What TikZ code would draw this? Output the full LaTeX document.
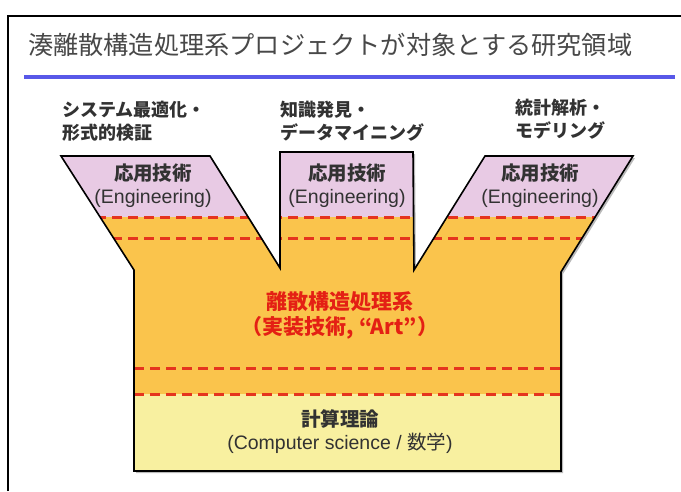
\documentclass[tikz,border=0pt]{standalone}
\usepackage{fontspec}
\setmainfont{Liberation Sans}
\newfontfamily\jp{Noto Sans CJK JP}
\definecolor{pinkfill}{RGB}{232,202,228}
\definecolor{orangefill}{RGB}{250,196,76}
\definecolor{yellowfill}{RGB}{248,240,160}
\definecolor{dashred}{RGB}{229,52,30}
\definecolor{titleblue}{RGB}{88,88,232}
\definecolor{titlegray}{RGB}{72,72,72}
\definecolor{textdark}{RGB}{50,50,50}
\definecolor{artred}{RGB}{228,32,20}
\tikzset{
  lbl/.style={font=\jp\bfseries\fontsize{18}{22.5}\selectfont, align=left, inner sep=0pt, text=textdark, anchor=west},
  eng/.style={font=\fontsize{19.5}{23}\selectfont, align=center, inner sep=0pt, text=textdark},
  redline/.style={draw=dashred, line width=3pt, dash pattern=on 10pt off 6pt},
}
\begin{document}
\begin{tikzpicture}[x=1pt,y=-1pt]
\useasboundingbox (0,0) rectangle (681,491);
\fill[white] (0,0) rectangle (681,491);
% frame
\draw[line width=1.5pt] (8,491) -- (8,16) -- (681,16);
% title
\node[font=\jp\fontsize{25.2}{30}\selectfont, text=titlegray, anchor=west, inner sep=0pt] (title) at (28,45) {湊離散構造処理系プロジェクトが対象とする研究領域};
\draw[titleblue, line width=4pt] (24,77) -- (675,77);
% shape
\def\shapepath{(61,156) -- (210,156) -- (280,268) -- (280,152) -- (413,152) -- (414,270) -- (485,156) -- (633,156) -- (561,272) -- (561,471) -- (134,471) -- (134,270) -- cycle}
\fill[black!45, opacity=0.6] [shift={(2,2)}] \shapepath;
\begin{scope}
  \clip \shapepath;
  \fill[orangefill] (0,0) rectangle (681,491);
  \fill[pinkfill] (0,0) rectangle (681,217);
  \fill[yellowfill] (0,394) rectangle (681,491);
  \draw[redline] (0,217) -- (681,217);
  \draw[redline] (0,238) -- (681,238);
  \draw[redline] (134,368) -- (561,368);
  \draw[redline] (134,394) -- (561,394);
\end{scope}
\draw[line width=1.6pt, line join=miter] \shapepath;
% labels
\node[lbl] (l1) at (62,121) {システム最適化・\\形式的検証};
\node[lbl] (l2) at (280,121) {知識発見・\\データマイニング};
\node[lbl] (l3) at (515,119) {統計解析・\\モデリング};
% engineering
\node[eng] (e1) at (153,185.5) {{\jp\bfseries 応用技術}\\(Engineering)};
\node[eng] (e2) at (347,185.5) {{\jp\bfseries 応用技術}\\(Engineering)};
\node[eng] (e3) at (540,185.5) {{\jp\bfseries 応用技術}\\(Engineering)};
% art
\node[font=\jp\bfseries\fontsize{21}{25}\selectfont, align=center, inner sep=0pt, text=artred] (art) at (340,315.5) {離散構造処理系\\（実装技術, “Art”）};
% theory
\node[eng] (cs) at (340,431.5) {{\jp\bfseries 計算理論}\\(Computer science / {\jp 数学})};
\end{tikzpicture}
\end{document}
